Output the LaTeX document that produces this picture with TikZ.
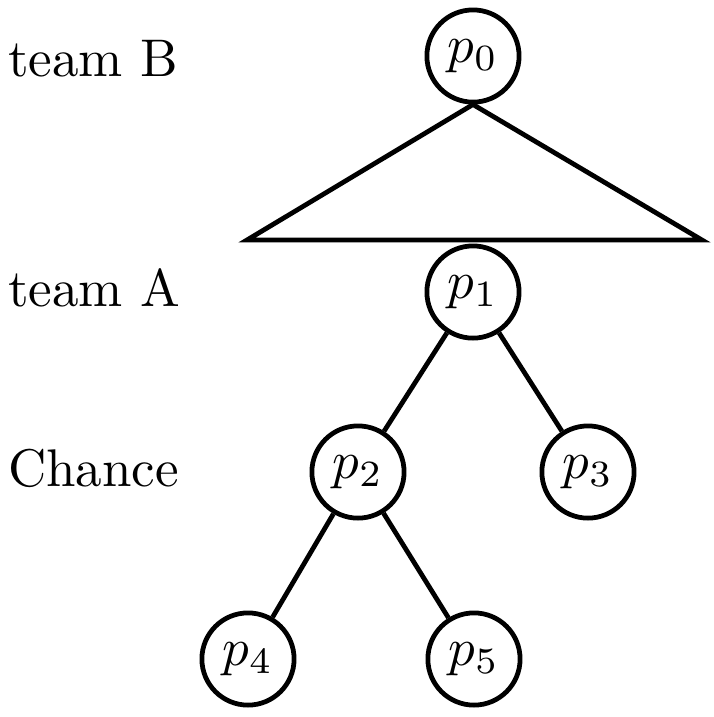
\documentclass[tikz,border=0pt]{standalone}
\begin{document}
\begin{tikzpicture}[x=0.1887pt,y=-0.1887pt,
  pnode/.style={circle,draw,line width=0.9pt,minimum size=17.4pt,inner sep=0pt},
  lbl/.style={anchor=base west,inner sep=0pt},
  edge/.style={line width=0.9pt}]
\useasboundingbox (0,0) rectangle (714,717);
\node[pnode] (p0) at (473,56) {$p_0$};
\node[pnode] (p1) at (473,292) {$p_1$};
\node[pnode] (p2) at (358,472) {$p_2$};
\node[pnode] (p3) at (588,472) {$p_3$};
\node[pnode] (p4) at (248,659) {$p_4$};
\node[pnode] (p5) at (474,659) {$p_5$};
\node[lbl] (tb) at (7,76) {team B};
\node[lbl] (ta) at (7,306) {team A};
\node[lbl] (ch) at (7,486) {Chance};
\coordinate (tl) at (247,240);
\coordinate (tr) at (702,240);
\draw[edge,line join=miter] (p0.south) -- (tl) -- (tr) -- cycle;
\draw[edge] (p1) -- (p2);
\draw[edge] (p1) -- (p3);
\draw[edge] (p2) -- (p4);
\draw[edge] (p2) -- (p5);
\end{tikzpicture}
\end{document}
